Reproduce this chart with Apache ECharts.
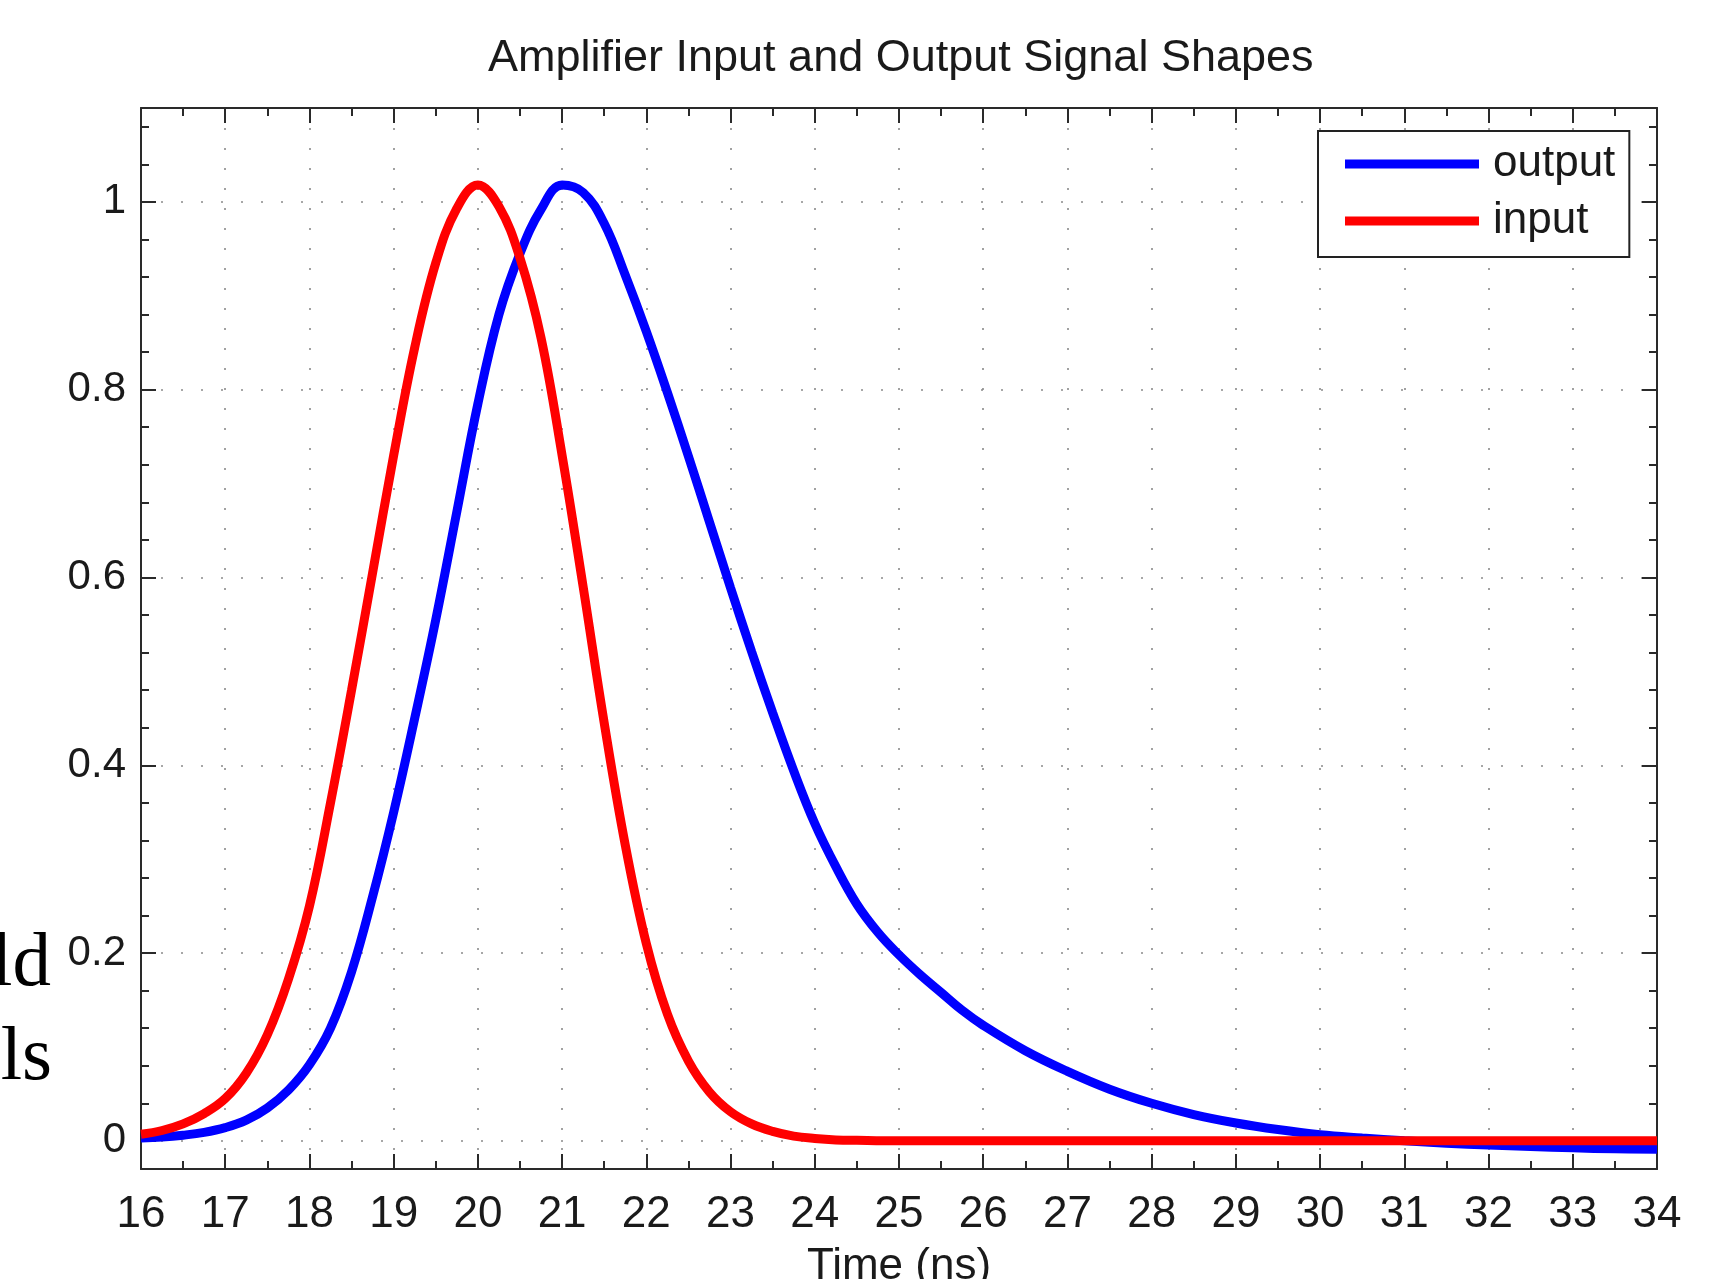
<!DOCTYPE html>
<html>
<head>
<meta charset="utf-8">
<script src="https://cdn.jsdelivr.net/npm/echarts@6/dist/echarts.min.js"></script>
<style>
  html, body { margin: 0; padding: 0; background: #ffffff; }
  #chart { width: 1732px; height: 1279px; }
</style>
</head>
<body>
<div id="chart"></div>
<script>
// ---- data ----
const titleText = 'Amplifier Input and Output Signal Shapes';
const xName = 'Time (ns)';
const seriesNames = ['output', 'input'];

const timeOutput = [16, 16.25, 16.5, 16.75, 17, 17.25, 17.5, 17.75, 18, 18.25, 18.5, 18.75, 19, 19.25, 19.5, 19.75, 20, 20.25, 20.5, 20.75, 21, 21.25, 21.5, 21.75, 22, 22.25, 22.5, 22.75, 23, 23.25, 23.5, 23.75, 24, 24.25, 24.5, 24.75, 25, 25.25, 25.5, 25.75, 26, 26.5, 27, 27.5, 28, 28.5, 29, 29.5, 30, 30.5, 31, 31.5, 32, 32.5, 33, 33.5, 34];
const output     = [0.003, 0.004, 0.006, 0.009, 0.014, 0.022, 0.035, 0.054, 0.081, 0.12, 0.18, 0.26, 0.35, 0.45, 0.555, 0.67, 0.785, 0.88, 0.945, 0.992, 1.018, 1.01, 0.977, 0.922, 0.862, 0.797, 0.729, 0.659, 0.589, 0.521, 0.456, 0.394, 0.338, 0.292, 0.252, 0.222, 0.198, 0.177, 0.158, 0.139, 0.123, 0.096, 0.074, 0.055, 0.04, 0.028, 0.019, 0.012, 0.0065, 0.003, 0.0, -0.0025, -0.0045, -0.006, -0.0075, -0.0085, -0.009];

const timeInput = [16, 16.25, 16.5, 16.75, 17, 17.25, 17.5, 17.75, 18, 18.25, 18.5, 18.75, 19, 19.25, 19.5, 19.75, 20, 20.25, 20.5, 20.75, 21, 21.25, 21.5, 21.75, 22, 22.25, 22.5, 22.75, 23, 23.25, 23.5, 23.75, 24, 24.25, 24.5, 25, 25.5, 26, 27, 28, 29, 30, 31, 32, 33, 34];
const input     = [0.007, 0.011, 0.018, 0.029, 0.045, 0.072, 0.113, 0.172, 0.25, 0.36, 0.48, 0.605, 0.73, 0.845, 0.935, 0.993, 1.018, 0.995, 0.94, 0.855, 0.73, 0.59, 0.445, 0.315, 0.21, 0.135, 0.085, 0.052, 0.031, 0.018, 0.01, 0.005, 0.0025, 0.001, 0.0005, 0, 0, 0, 0, 0, 0, 0, 0, 0, 0, 0];

const xMin = 16, xMax = 34, xStep = 1;
const yMin = -0.03, yMax = 1.1;
const yMajorTicks = [0, 0.2, 0.4, 0.6, 0.8, 1];
const yMinorTicks = [0.04, 0.08, 0.12, 0.16, 0.24, 0.28, 0.32, 0.36, 0.44, 0.48, 0.52, 0.56, 0.64, 0.68, 0.72, 0.76, 0.84, 0.88, 0.92, 0.96, 1.04, 1.08];

// fragments of slide text visible at the left edge
const sideFragments = ['ld', 'ls'];

// ---- chart ----
const FONT = '"Liberation Sans", Arial, Helvetica, sans-serif';
const INK = '#1a1a1a';
const axisLineStyle = { color: '#2a2a2a', width: 2 };
const gridDots = { color: '#8a8a8a', width: 1.6, type: [2, 18] };

function pairs(ts, vs) { return ts.map((t, i) => [t, vs[i]]); }

const chart = echarts.init(document.getElementById('chart'), null, { renderer: 'canvas' });

const yBase = { type: 'value', gridIndex: 0, min: yMin, max: yMax, scale: false };

chart.setOption({
  animation: false,
  backgroundColor: '#ffffff',
  title: {
    text: titleText,
    left: 483,
    top: 31,
    textStyle: { fontFamily: FONT, fontSize: 45, fontWeight: 'normal', color: INK }
  },
  legend: {
    data: seriesNames,
    orient: 'vertical',
    left: 1318,
    top: 131,
    padding: [11, 14, 14, 27],
    itemGap: 13,
    itemWidth: 134,
    itemHeight: 9,
    icon: 'rect',
    borderColor: '#222',
    borderWidth: 2,
    backgroundColor: '#fff',
    textStyle: { fontFamily: FONT, fontSize: 44, color: INK, lineHeight: 44, padding: [0, 0, 0, 9] }
  },
  grid: { left: 141, right: 75, top: 108, bottom: 110, containLabel: false, outerBoundsMode: 'none' },
  xAxis: [
    {
      type: 'value', position: 'bottom', min: xMin, max: xMax, interval: xStep,
      name: xName, nameLocation: 'middle', nameGap: 76,
      nameTextStyle: { fontFamily: FONT, fontSize: 44, color: INK },
      axisLine: { show: true, onZero: false, lineStyle: axisLineStyle },
      axisTick: { show: true, inside: true, length: 15, lineStyle: axisLineStyle },
      minorTick: { show: true, splitNumber: 2, length: 8, lineStyle: axisLineStyle },
      axisLabel: { fontFamily: FONT, fontSize: 44, color: INK, margin: 24 },
      splitLine: { show: true, lineStyle: gridDots }
    },
    {
      type: 'value', position: 'top', min: xMin, max: xMax, interval: xStep,
      axisLine: { show: true, onZero: false, lineStyle: axisLineStyle },
      axisTick: { show: true, inside: true, length: 15, lineStyle: axisLineStyle },
      minorTick: { show: true, splitNumber: 2, length: 8, lineStyle: axisLineStyle },
      axisLabel: { show: false },
      splitLine: { show: false }
    }
  ],
  yAxis: [
    Object.assign({}, yBase, {
      position: 'left',
      axisLine: { show: true, onZero: false, lineStyle: axisLineStyle },
      axisTick: { show: true, inside: true, length: 15, lineStyle: axisLineStyle, customValues: yMajorTicks },
      axisLabel: { fontFamily: FONT, fontSize: 42, color: INK, margin: 15, customValues: yMajorTicks,
                   formatter: v => String(Math.round(v * 100) / 100) },
      splitLine: { show: true, lineStyle: gridDots }
    }),
    Object.assign({}, yBase, {
      position: 'left',
      axisLine: { show: false },
      axisTick: { show: true, inside: true, length: 8, lineStyle: axisLineStyle, customValues: yMinorTicks },
      axisLabel: { show: false },
      splitLine: { show: false }
    }),
    Object.assign({}, yBase, {
      position: 'right',
      axisLine: { show: true, onZero: false, lineStyle: axisLineStyle },
      axisTick: { show: true, inside: true, length: 15, lineStyle: axisLineStyle, customValues: yMajorTicks },
      axisLabel: { show: false },
      splitLine: { show: false }
    }),
    Object.assign({}, yBase, {
      position: 'right',
      axisLine: { show: false },
      axisTick: { show: true, inside: true, length: 8, lineStyle: axisLineStyle, customValues: yMinorTicks },
      axisLabel: { show: false },
      splitLine: { show: false }
    })
  ],
  series: [
    {
      name: seriesNames[0], type: 'line', xAxisIndex: 0, yAxisIndex: 0,
      data: pairs(timeOutput, output), smooth: 0.4, showSymbol: false, symbol: 'none',
      color: '#0000ff', lineStyle: { color: '#0000ff', width: 9 }, z: 3
    },
    {
      name: seriesNames[1], type: 'line', xAxisIndex: 0, yAxisIndex: 0,
      data: pairs(timeInput, input), smooth: 0.4, showSymbol: false, symbol: 'none',
      color: '#ff0000', lineStyle: { color: '#ff0000', width: 9 }, z: 4
    }
  ],
  graphic: [
    { type: 'text', right: 1732 - 51, top: 926, z: 10,
      style: { text: sideFragments[0], font: '77px "Liberation Serif", "Times New Roman", serif', fill: '#000' } },
    { type: 'text', right: 1732 - 52, top: 1020, z: 10,
      style: { text: sideFragments[1], font: '77px "Liberation Serif", "Times New Roman", serif', fill: '#000' } }
  ]
});
</script>
</body>
</html>
